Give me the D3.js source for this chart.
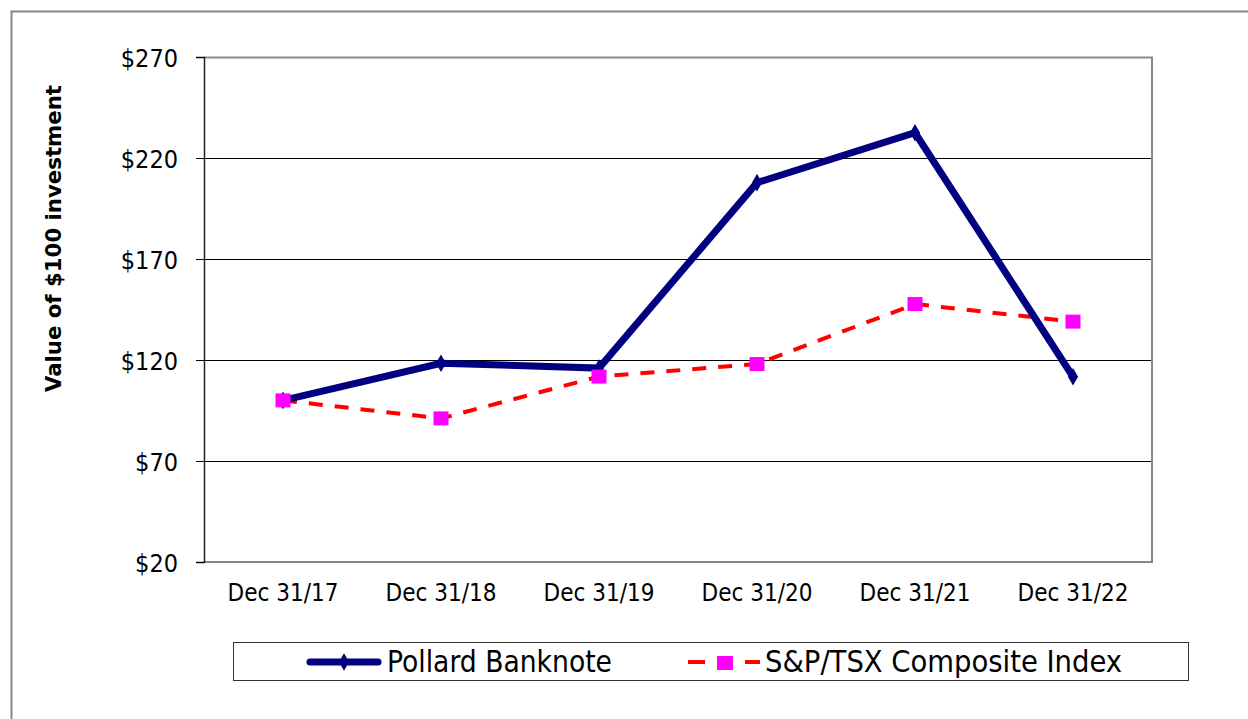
<!DOCTYPE html>
<html><head><meta charset="utf-8">
<script src="https://cdn.jsdelivr.net/npm/d3@7"></script>
<style>body{margin:0;background:#fff}svg{display:block}</style>
</head><body>
<svg id="c" width="1248" height="719"></svg>
<script>
const categories = ["Dec 31/17","Dec 31/18","Dec 31/19","Dec 31/20","Dec 31/21","Dec 31/22"];
const pollard = [100, 118.4, 116, 207.8, 232.5, 111.7];
const sptsx = [100, 91.1, 111.8, 118, 147.7, 139];
const yTicks = [20, 70, 120, 170, 220, 270];
const seriesNames = ["Pollard Banknote", "S&P/TSX Composite Index"];

const svg = d3.select("#c");
const font = "'DejaVu Sans Condensed', 'DejaVu Sans', sans-serif";
const L = 204, R = 1152, T = 57, B = 562;

// outer frame (left and top)
svg.append("path").attr("d", "M11.5,719 V11.5 H1248").attr("fill","none").attr("stroke","#888").attr("stroke-width",2);

const x = d3.scaleBand().domain(categories).range([L, R]);
const y = d3.scaleLinear().domain([20, 270]).range([B, T]);

// gridlines
svg.append("g").selectAll("line").data(yTicks.slice(1,-1)).join("line")
  .attr("x1", L).attr("x2", R).attr("y1", d => Math.round(y(d))+0.5).attr("y2", d => Math.round(y(d))+0.5)
  .attr("stroke","#000").attr("stroke-width",1);

// plot border (top,right,bottom gray)
svg.append("path").attr("d", `M${L},${T+0.5} H${R} V${B} H${L}`).attr("fill","none").attr("stroke","#888").attr("stroke-width",2);

// y axis
const yAxis = d3.axisLeft(y).tickValues(yTicks).tickFormat(d => "$" + d).tickSize(8).tickPadding(18);
const gy = svg.append("g").attr("transform", `translate(${L},0)`).call(yAxis);
gy.select(".domain").attr("stroke","#222").attr("stroke-width",1.5);
gy.selectAll(".tick line").attr("stroke","#000");
gy.selectAll("text").attr("font-family", font).attr("font-size", 25).attr("fill","#000").attr("dy","0.36em");

// x axis labels
const gx = svg.append("g").attr("transform", `translate(0,${B})`).call(d3.axisBottom(x).tickSize(0).tickPadding(22));
gx.select(".domain").remove();
gx.selectAll("text").attr("font-family", font).attr("font-size", 24).attr("fill","#000");

// y title
svg.append("text").attr("transform", "translate(61,238.5) rotate(-90)").attr("text-anchor","middle")
  .attr("font-family", font).attr("font-weight","bold").attr("font-size", 22)
  .attr("textLength",307).attr("lengthAdjust","spacingAndGlyphs").text("Value of $100 investment");

const cx = d => x(d) + x.bandwidth()/2;
const line = d3.line().x((d,i) => cx(categories[i])).y(d => y(d));

// S&P series
svg.append("path").datum(sptsx).attr("d", line).attr("fill","none").attr("stroke","#ff0000")
  .attr("stroke-width",4).attr("stroke-dasharray","14,12");
// Pollard
svg.append("path").datum(pollard).attr("d", line).attr("fill","none").attr("stroke","#000080")
  .attr("stroke-width",7).attr("stroke-linejoin","miter");
svg.append("g").selectAll("path").data(pollard).join("path")
  .attr("d", d3.symbol(d3.symbolDiamond, 90))
  .attr("transform", (d,i) => `translate(${cx(categories[i])},${y(d)})`).attr("fill","#000080");
svg.append("g").selectAll("rect").data(sptsx).join("rect")
  .attr("x", (d,i) => cx(categories[i]) - 7.5).attr("y", d => y(d) - 7)
  .attr("width",15).attr("height",14).attr("fill","#ff00ff");

// legend
const lg = svg.append("g");
lg.append("rect").attr("x",233.5).attr("y",642.5).attr("width",955).attr("height",38).attr("fill","#fff").attr("stroke","#333").attr("stroke-width",1);
lg.append("line").attr("x1",310).attr("x2",378).attr("y1",662).attr("y2",662).attr("stroke","#000080").attr("stroke-width",7).attr("stroke-linecap","round");
lg.append("path").attr("d", d3.symbol(d3.symbolDiamond, 90)).attr("transform","translate(344,662)").attr("fill","#000080");
lg.append("text").attr("x",387).attr("y",672).attr("font-family",font).attr("font-size",29.5).attr("textLength",225).attr("lengthAdjust","spacingAndGlyphs").text(seriesNames[0]);
lg.append("line").attr("x1",688).attr("x2",705).attr("y1",662).attr("y2",662).attr("stroke","#ff0000").attr("stroke-width",4);
lg.append("line").attr("x1",745).attr("x2",760).attr("y1",662).attr("y2",662).attr("stroke","#ff0000").attr("stroke-width",4);
lg.append("rect").attr("x",717).attr("y",656).attr("width",16).attr("height",14).attr("fill","#ff00ff");
lg.append("text").attr("x",765).attr("y",672).attr("font-family",font).attr("font-size",29.5).attr("textLength",357).attr("lengthAdjust","spacingAndGlyphs").text(seriesNames[1]);
</script>
</body></html>
